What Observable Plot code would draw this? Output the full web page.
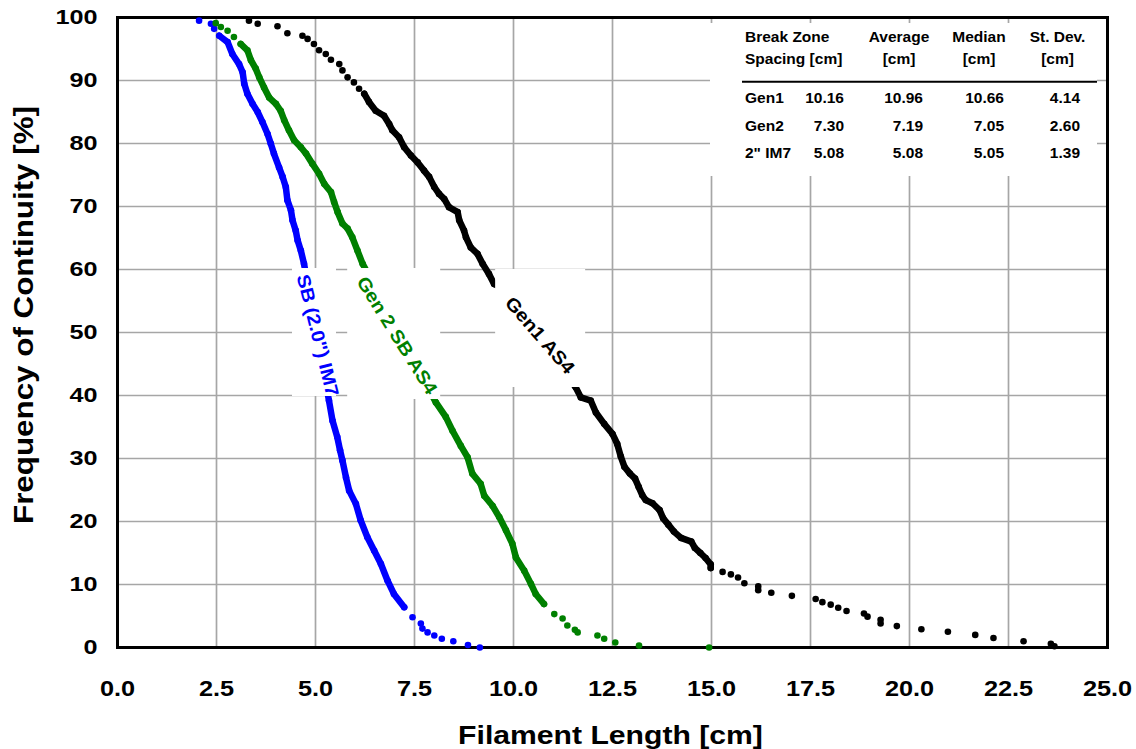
<!DOCTYPE html>
<html>
<head>
<meta charset="utf-8">
<script src="https://cdn.jsdelivr.net/npm/d3@7"></script>
<script src="https://cdn.jsdelivr.net/npm/@observablehq/plot@0.6"></script>
<style>
  html, body { margin: 0; padding: 0; background: #ffffff; }
  #chart { width: 1136px; height: 749px; }
</style>
</head>
<body>
<div id="chart"></div>
<script>
// ---------------- DATA ----------------
const seriesNames = ["SB (2.0\") IM7", "Gen 2 SB AS4", "Gen1 AS4"];
const seriesColors = ["#0000ff", "#008000", "#000000"];

// SB (2.0") IM7  (blue)
const im7Length = [2.06,2.36,2.44,2.57,2.78,2.90,3.07,3.16,3.20,3.28,3.41,3.54,3.66,3.79,3.87,3.95,4.08,4.17,4.25,4.29,4.38,4.42,4.50,4.55,4.63,4.71,5.34,5.43,5.55,5.62,5.68,5.77,5.85,6.02,6.14,6.31,6.48,6.65,6.82,6.98,7.24,7.45,7.66,7.70,7.83,8.00,8.19,8.48,8.85,9.15];
const im7Freq   = [99.5,99.0,98.2,97.1,96.1,94.2,92.6,91.3,89.5,87.9,86.3,85.0,83.4,81.5,80.0,78.4,76.2,74.7,73.1,71.0,69.4,67.8,66.2,64.6,63.0,60.9,39.2,36.0,33.4,31.3,29.7,27.0,24.9,22.8,20.2,17.5,15.4,13.3,10.6,8.5,6.4,4.8,3.8,3.0,2.4,1.9,1.4,1.0,0.4,0.0];

// Gen 2 SB AS4 (green)
const gen2Length = [2.48,2.61,2.78,2.94,3.11,3.28,3.37,3.49,3.58,3.70,3.83,4.00,4.12,4.21,4.33,4.46,4.63,4.76,4.92,5.09,5.22,5.39,5.47,5.56,5.68,5.81,5.93,6.06,6.19,8.04,8.29,8.46,8.67,8.84,8.96,9.17,9.26,9.47,9.64,9.81,9.97,10.06,10.27,10.44,10.56,10.77,11.03,11.24,11.36,11.55,11.62,12.12,12.29,12.57,13.17,14.94];
const gen2Freq   = [99.1,98.5,97.9,96.9,95.8,94.8,93.2,91.9,90.5,88.9,87.3,86.3,85.2,83.7,82.1,80.5,79.4,78.4,76.8,75.2,73.6,72.3,70.7,69.1,67.3,66.5,65.1,63.0,60.9,38.9,36.6,34.4,32.0,30.2,27.6,26.0,24.1,22.5,20.7,18.6,16.5,14.3,12.2,10.1,8.5,6.9,5.3,4.6,3.5,2.8,2.4,1.9,1.4,0.8,0.3,0.0];

// Gen1 AS4 (black)
const gen1Length = [3.32,3.54,4.04,4.29,4.67,4.80,4.96,5.09,5.26,5.39,5.60,5.68,5.81,5.97,6.10,6.23,6.35,6.52,6.73,6.86,6.94,7.11,7.24,7.41,7.58,7.74,7.87,8.00,8.12,8.25,8.37,8.59,8.63,8.75,8.80,8.92,9.09,9.22,9.38,9.51,9.68,11.57,11.70,11.95,12.08,12.29,12.50,12.62,12.71,12.80,12.94,13.07,13.16,13.25,13.34,13.51,13.69,13.78,13.91,14.05,14.23,14.49,14.58,14.72,14.85,14.98,14.98,15.28,15.49,15.67,15.83,16.18,16.18,16.51,17.03,17.63,17.80,18.01,18.20,18.41,18.85,18.94,19.27,19.27,19.68,20.30,20.97,21.66,22.12,22.88,23.57,23.66];
const gen1Freq   = [99.5,99.0,98.6,97.5,97.1,96.6,95.8,94.8,94.2,93.3,92.6,91.6,90.5,89.7,88.7,87.9,86.6,85.2,84.4,83.1,82.1,81.0,79.4,78.1,77.0,75.7,74.7,73.1,72.0,71.2,69.9,69.1,67.8,66.2,65.1,63.5,62.5,60.9,59.3,57.7,57.2,41.3,39.7,39.2,37.3,35.5,33.9,32.3,30.3,28.7,27.6,26.8,25.5,24.2,23.4,22.9,21.8,20.5,19.5,18.4,17.4,16.8,15.8,15.0,14.2,13.2,12.6,12.0,11.6,11.1,10.2,9.7,9.1,8.7,8.2,7.7,7.2,6.8,6.3,5.8,5.4,4.9,4.4,3.8,3.4,2.9,2.5,2.0,1.5,1.0,0.6,0.2];

// Axis ticks
const xTicks = [0, 2.5, 5, 7.5, 10, 12.5, 15, 17.5, 20, 22.5, 25];
const yTicks = [0, 10, 20, 30, 40, 50, 60, 70, 80, 90, 100];
const xTitle = "Filament Length [cm]";
const yTitle = "Frequency of Continuity [%]";

// Inset table
const tableHead1 = ["Break Zone", "Average", "Median", "St. Dev."];
const tableHead2 = ["Spacing [cm]", "[cm]", "[cm]", "[cm]"];
const tableRowNames = ["Gen1", "Gen2", "2\" IM7"];
const tableSpacing = [10.16, 7.30, 5.08];
const tableAverage = [10.96, 7.19, 5.08];
const tableMedian  = [10.66, 7.05, 5.05];
const tableStDev   = [4.14, 2.60, 1.39];

// ---------------- BUILD ----------------
const seriesLen = [im7Length, gen2Length, gen1Length];
const seriesFreq = [im7Freq, gen2Freq, gen1Freq];
const points = [];
seriesLen.forEach((xs, s) => xs.forEach((x, i) => points.push({s, x, y: seriesFreq[s][i], color: seriesColors[s]})));

// style: range of each curve drawn as a continuous band of dots
const denseRange = [[6.0, 97.5], [6.5, 96.0], [12.5, 88.5]];
const densePts = points.filter(p => p.y >= denseRange[p.s][0] && p.y <= denseRange[p.s][1]);

// labels sit at the median (50 %) of each curve; median index in table: Gen1=0, Gen2=1, IM7=2
const medianIndex = [2, 1, 0];
const labelAngle = [76, 58, 49];
const labelBox = [[-25, 19, -64, 64], [-49, 44, -64, 67], [-44, 46, -63, 55]];
const labels = seriesNames.map((name, s) => ({s, name, x: tableMedian[medianIndex[s]], y: 50, angle: labelAngle[s], color: seriesColors[s]}));

const labelBoxesMark = (index, scales) => {
  const g = d3.create("svg:g");
  labels.forEach(l => {
    const cx = scales.x(l.x), cy = scales.y(l.y), b = labelBox[l.s];
    g.append("rect").attr("x", cx + b[0]).attr("y", cy + b[2])
      .attr("width", b[1] - b[0]).attr("height", b[3] - b[2]).attr("fill", "white");
  });
  return g.node();
};

const tableMark = (index, scales, values, dims) => {
  const R = dims.width - dims.marginRight, T = dims.marginTop;
  const g = d3.create("svg:g").attr("font-size", 15.5).attr("font-weight", "bold").attr("fill", "black");
  g.append("rect").attr("x", R - 397).attr("y", T + 6).attr("width", 387).attr("height", 153).attr("fill", "white");
  g.append("line").attr("x1", R - 365).attr("x2", R - 10).attr("y1", T + 64.7).attr("y2", T + 64.7)
    .attr("stroke", "black").attr("stroke-width", 2);
  const headX = [R - 362, R - 208, R - 128, R - 49.5];
  const headAnchor = ["start", "middle", "middle", "middle"];
  tableHead1.forEach((t, i) => g.append("text").attr("x", headX[i]).attr("y", T + 24.7).attr("text-anchor", headAnchor[i]).text(t));
  tableHead2.forEach((t, i) => g.append("text").attr("x", headX[i]).attr("y", T + 46.5).attr("text-anchor", headAnchor[i]).text(t));
  const rowY = [T + 86.3, T + 114, T + 141.3];
  tableRowNames.forEach((name, r) => {
    g.append("text").attr("x", R - 362).attr("y", rowY[r]).attr("text-anchor", "start").text(name);
    [[tableSpacing, R - 263], [tableAverage, R - 184], [tableMedian, R - 103], [tableStDev, R - 27]].forEach(([arr, x]) => {
      g.append("text").attr("x", x).attr("y", rowY[r]).attr("text-anchor", "end").text(arr[r].toFixed(2));
    });
  });
  return g.node();
};

const svg = Plot.plot({
  width: 1136,
  height: 749,
  marginLeft: 117,
  marginRight: 29,
  marginTop: 17,
  marginBottom: 102,
  style: {fontFamily: "'Liberation Sans', Arial, sans-serif", fontWeight: "bold", background: "white", color: "black"},
  x: {domain: [0, 25]},
  y: {domain: [0, 100]},
  color: {type: "identity"},
  marks: [
    Plot.gridX(xTicks, {stroke: "#a6a6a6", strokeOpacity: 1, strokeWidth: 1.7}),
    Plot.gridY(yTicks, {stroke: "#a6a6a6", strokeOpacity: 1, strokeWidth: 1.7}),
    tableMark,
    Plot.frame({stroke: "black", strokeWidth: 3}),
    Plot.line(densePts, {x: "x", y: "y", z: "s", stroke: "color", strokeWidth: 6.5, strokeLinecap: "round", strokeLinejoin: "round"}),
    Plot.dot(points, {x: "x", y: "y", r: 3.3, fill: "color", stroke: null}),
    labelBoxesMark,
    Plot.text(labels, {x: "x", y: "y", text: "name", rotate: "angle", fill: "color", fontSize: 18.5, fontWeight: "bold", dy: 3, lineAnchor: "middle", textAnchor: "middle"}),
    Plot.axisX({ticks: xTicks, tickFormat: d => d.toFixed(1), tickSize: 0, tickPadding: 33, fontSize: 22, label: null}),
    Plot.axisY({ticks: yTicks, tickFormat: d => String(d), tickSize: 0, tickPadding: 20, fontSize: 21, label: null}),
    Plot.text([xTitle], {text: d => d, frameAnchor: "bottom", dx: -2, dy: 96, lineAnchor: "bottom", textAnchor: "middle", fontSize: 26, fontWeight: "bold"}),
    Plot.text([yTitle], {text: d => d, frameAnchor: "left", dx: -85, dy: -17.5, rotate: -90, lineAnchor: "bottom", textAnchor: "middle", fontSize: 28, fontWeight: "bold"})
  ]
});

// horizontal stretch of the texts, as in the reference
svg.querySelectorAll("text").forEach(t => {
  const g = t.closest("g[aria-label]");
  const lab = g ? g.getAttribute("aria-label") : "";
  let s = null;
  if (lab === "x-axis tick label") s = 1.15;
  else if (lab === "y-axis tick label") s = 1.2;
  else if (t.textContent === xTitle) s = 1.16;
  else if (t.textContent === yTitle) s = 1.12;
  else if (seriesNames.includes(t.textContent)) s = 1.1;
  if (s && t.getAttribute("transform")) t.setAttribute("transform", t.getAttribute("transform") + ` scale(${s},1)`);
});

document.getElementById("chart").appendChild(svg);
</script>
</body>
</html>
